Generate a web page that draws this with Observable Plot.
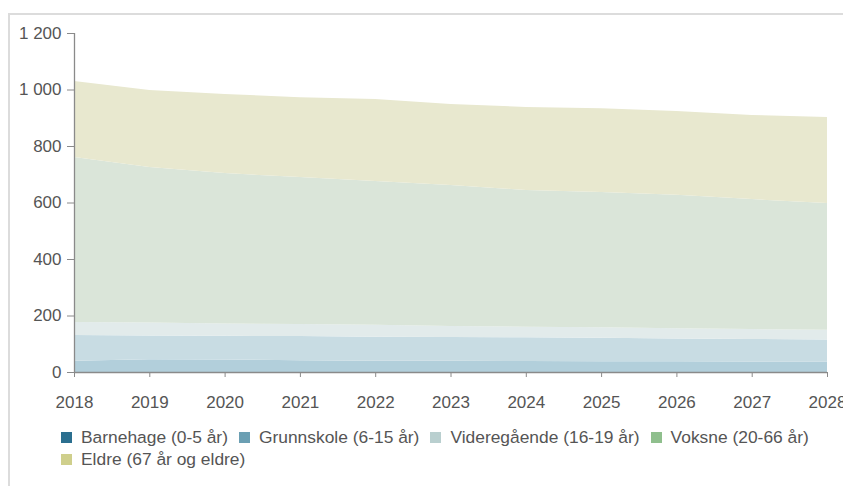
<!DOCTYPE html>
<html>
<head>
<meta charset="utf-8">
<script src="https://cdn.jsdelivr.net/npm/d3@7"></script>
<script src="https://cdn.jsdelivr.net/npm/@observablehq/plot@0.6"></script>
<style>
  html, body { margin: 0; padding: 0; background: #fff; }
  body { width: 843px; height: 486px; overflow: hidden; font-family: "Liberation Sans", Arial, sans-serif; }
  #frame { position: absolute; left: 8px; top: 13px; width: 900px; height: 520px;
           border-top: 2px solid #dcdcdc; border-left: 2px solid #dcdcdc; }
  #chart { position: absolute; left: 10px; top: 15px; }
  #legend { position: absolute; left: 61px; top: 426px; width: 775px; display: flex; flex-wrap: wrap;
            font-size: 17.4px; color: #555; line-height: 22px; }
  .item { display: flex; align-items: center; margin-right: 11px; white-space: nowrap; }
  .sw { width: 11px; height: 11px; margin-right: 9px; display: inline-block; }
</style>
</head>
<body>
<div id="frame"></div>
<div id="chart"></div>
<div id="legend"></div>
<script>
const years = [2018, 2019, 2020, 2021, 2022, 2023, 2024, 2025, 2026, 2027, 2028];
const seriesNames = ["Barnehage (0-5 år)", "Grunnskole (6-15 år)", "Videregående (16-19 år)", "Voksne (20-66 år)", "Eldre (67 år og eldre)"];
const barnehage    = [40, 45, 44, 42, 40, 40, 39, 38, 38, 37, 37];
const grunnskole   = [91, 84, 84, 85, 85, 84, 84, 83, 81, 80, 78];
const videregaende = [46, 46, 44, 43, 42, 39, 37, 37, 36, 35, 35];
const voksne       = [584, 551, 532, 520, 509, 499, 484, 479, 472, 460, 448];
const eldre        = [269, 272, 280, 283, 290, 287, 294, 297, 297, 298, 305];
const areaColors   = ["#b2cfdb", "#c8dce3", "#e2ebeb", "#dae5d9", "#e8e8cf"];
const legendColors = ["#2b6f8f", "#6b9fb3", "#b9cfcf", "#8fbf8d", "#cfcf8c"];
const yTicks = [0, 200, 400, 600, 800, 1000, 1200];

const seriesValues = [barnehage, grunnskole, videregaende, voksne, eldre];
const data = [];
seriesNames.forEach((name, i) => {
  years.forEach((yr, j) => data.push({year: yr, series: name, value: seriesValues[i][j]}));
});

const fmt = d => d3.format(",")(d).replace(/,/g, " ");

const plot = Plot.plot({
  width: 833,
  height: 402,
  marginLeft: 64,
  marginRight: 16,
  marginTop: 18,
  marginBottom: 45,
  style: {fontFamily: "Liberation Sans, Arial, sans-serif", color: "#555", background: "transparent", overflow: "visible"},
  x: {domain: [2018, 2028], label: null},
  y: {domain: [0, 1200], label: null},
  color: {domain: seriesNames, range: areaColors},
  marks: [
    Plot.areaY(data, Plot.stackY({x: "year", y: "value", z: "series", fill: "series", order: seriesNames})),
    Plot.ruleX([2018], {y1: 0, y2: 1200, stroke: "#8a8a8a", strokeWidth: 1.3}),
    Plot.ruleY([0], {stroke: "#8a8a8a", strokeWidth: 1.3}),
    Plot.axisY({ticks: yTicks, tickFormat: fmt, tickSize: 7, tickPadding: 6, stroke: "#8a8a8a", fill: "#555", fontSize: 17, label: null}),
    Plot.axisX({ticks: years, tickFormat: d => String(d), tickSize: 5, tickPadding: 18, stroke: "#8a8a8a", fill: "#555", fontSize: 17, label: null})
  ]
});
document.getElementById("chart").appendChild(plot);

const legend = document.getElementById("legend");
seriesNames.forEach((name, i) => {
  const it = document.createElement("div");
  it.className = "item";
  const sw = document.createElement("span");
  sw.className = "sw";
  sw.style.background = legendColors[i];
  it.appendChild(sw);
  it.appendChild(document.createTextNode(name));
  legend.appendChild(it);
});
</script>
</body>
</html>
